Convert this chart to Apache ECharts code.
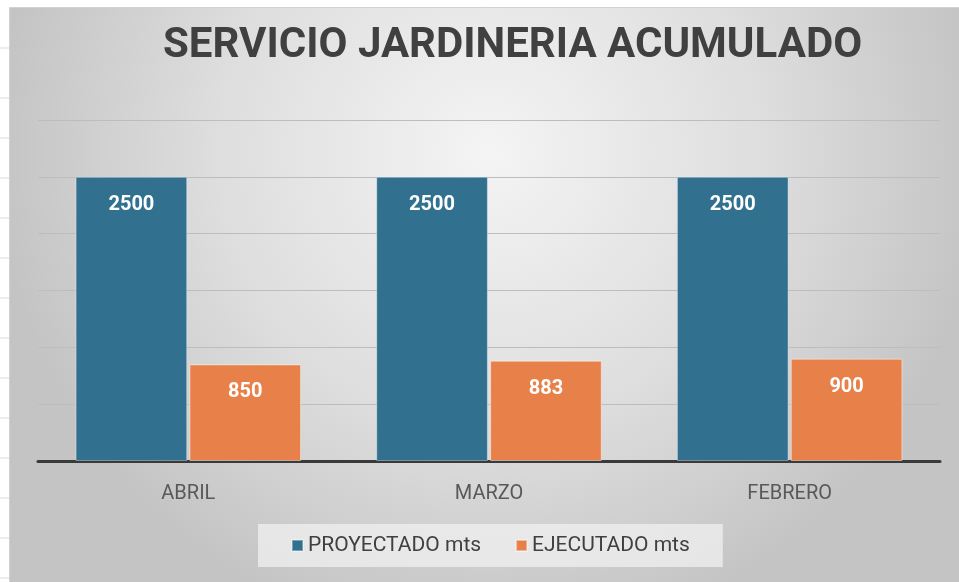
<!DOCTYPE html>
<html>
<head>
<meta charset="utf-8">
<script src="https://cdn.jsdelivr.net/npm/echarts@6/dist/echarts.min.js"></script>
<style>
  html, body { margin: 0; padding: 0; background: #fff; }
  #chart { width: 959px; height: 582px; }
</style>
</head>
<body>
<div id="chart"></div>
<script>
const categories = ["ABRIL", "MARZO", "FEBRERO"];
const proyectado = [2500, 2500, 2500];
const ejecutado = [850, 883, 900];
const sheetRows = [48, 98, 138, 178, 218, 258, 298, 338, 378, 418, 458, 498, 538, 578];

const chart = echarts.init(document.getElementById("chart"));

// spreadsheet cell lines visible at the left edge + chart frame
const decor = sheetRows.map(y => ({
  type: "line",
  z: -10,
  shape: { x1: 0, y1: y, x2: 9, y2: y },
  style: { stroke: "#dadada", lineWidth: 1 }
}));
decor.push({
  type: "rect",
  z: -9,
  shape: { x: 9.5, y: 7.5, width: 960, height: 580 },
  style: {
    fill: new echarts.graphic.RadialGradient(0.5, 0.25, 0.85, [
      { offset: 0, color: "#f4f4f4" },
      { offset: 0.55, color: "#dedede" },
      { offset: 1, color: "#c4c4c4" }
    ]),
    stroke: "#d2d2d2",
    lineWidth: 1
  }
});

const labelStyle = {
  show: true,
  position: "insideTop",
  distance: 18,
  color: "#fff",
  fontFamily: "Roboto",
  fontWeight: "bold",
  fontSize: 20
};

chart.setOption({
  backgroundColor: "#fff",
  animation: false,
  graphic: decor,
  title: {
    text: "SERVICIO JARDINERIA ACUMULADO",
    left: 158,
    top: 20,
    textStyle: {
      fontFamily: "Roboto",
      fontWeight: "bold",
      fontSize: 42,
      color: "#404040"
    }
  },
  legend: {
    data: ["PROYECTADO mts", "EJECUTADO mts"],
    left: 258,
    top: 524,
    padding: [11, 33],
    itemWidth: 11,
    itemHeight: 11,
    itemGap: 34,
    icon: "rect",
    backgroundColor: "rgba(240,240,240,0.75)",
    textStyle: { fontFamily: "Roboto", fontSize: 21, color: "#404040" }
  },
  grid: { left: 38, right: 19, top: 120, bottom: 121 },
  xAxis: {
    type: "category",
    data: categories,
    axisTick: { show: false },
    axisLine: { lineStyle: { color: "#3a3a3a", width: 3 } },
    axisLabel: {
      fontFamily: "Roboto",
      fontSize: 20,
      color: "#595959",
      margin: 23
    }
  },
  yAxis: {
    type: "value",
    min: 0,
    max: 3000,
    interval: 500,
    axisLabel: { show: false },
    axisLine: { show: false },
    axisTick: { show: false },
    splitLine: { lineStyle: { color: "#bdbdbd", width: 1 } }
  },
  series: [
    {
      name: "PROYECTADO mts",
      type: "bar",
      data: proyectado,
      barCategoryGap: "25%",
      barGap: "2%",
      itemStyle: { color: "#31718f", borderColor: "rgba(255,255,255,0.35)", borderWidth: 1 },
      label: labelStyle
    },
    {
      name: "EJECUTADO mts",
      type: "bar",
      data: ejecutado,
      itemStyle: { color: "#e8804a", borderColor: "rgba(255,255,255,0.45)", borderWidth: 1 },
      label: labelStyle
    }
  ]
});
</script>
</body>
</html>
